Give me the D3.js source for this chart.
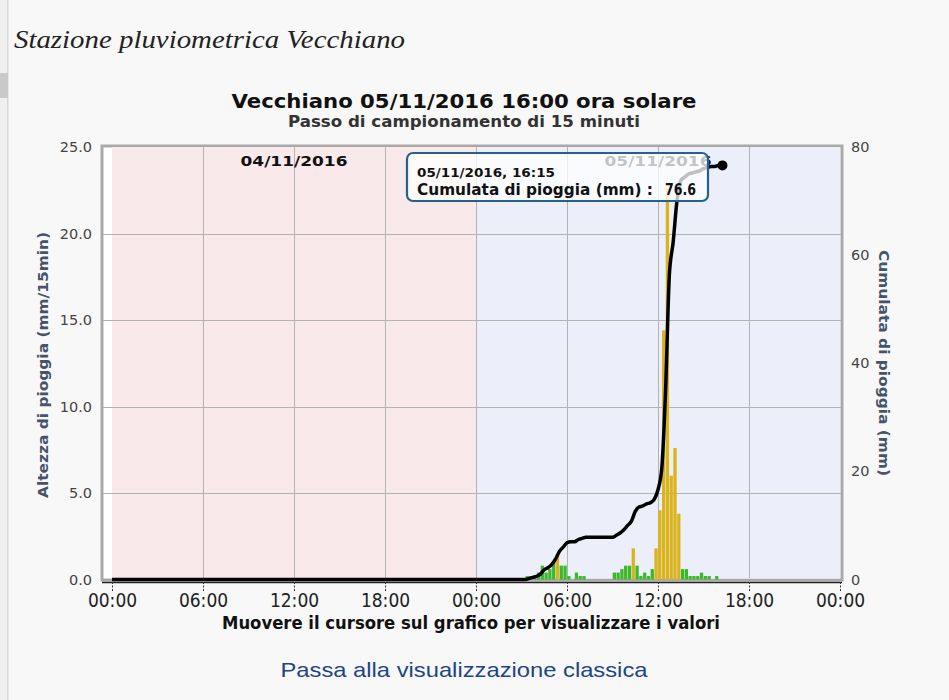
<!DOCTYPE html>
<html><head><meta charset="utf-8">
<script src="https://cdn.jsdelivr.net/npm/d3@7"></script>
<style>
html,body{margin:0;padding:0;background:#f8f8f8;}
svg{display:block;}
</style></head>
<body>
<svg id="c" width="949" height="700"></svg>
<script>
// ---------- DATA ----------
const pageTitle = "Stazione pluviometrica Vecchiano";
const chartTitle = "Vecchiano 05/11/2016 16:00 ora solare";
const chartSubtitle = "Passo di campionamento di 15 minuti";
const xAxisTitle = "Muovere il cursore sul grafico per visualizzare i valori";
const leftAxisTitle = "Altezza di pioggia (mm/15min)";
const rightAxisTitle = "Cumulata di pioggia (mm)";
const linkText = "Passa alla visualizzazione classica";

const dayLabels = ["04/11/2016", "05/11/2016"];
const dayStarts = ["2016-11-04 00:00", "2016-11-05 00:00", "2016-11-06 00:00"];
const xTickTimes = ["2016-11-04 00:00","2016-11-04 06:00","2016-11-04 12:00","2016-11-04 18:00",
                    "2016-11-05 00:00","2016-11-05 06:00","2016-11-05 12:00","2016-11-05 18:00","2016-11-06 00:00"];
const xTickLabels = ["00:00","06:00","12:00","18:00","00:00","06:00","12:00","18:00","00:00"];
const leftTicks = [0, 5, 10, 15, 20, 25];
const leftTickLabels = ["0.0","5.0","10.0","15.0","20.0","25.0"];
const rightTicks = [0, 20, 40, 60, 80];

// rain per 15 minutes on 05/11/2016 (interval start time, mm)
const rainTimes = ["03:15","03:30","03:45","04:00","04:15","04:30","04:45","05:00","05:15","05:30","05:45","06:00",
                   "06:30","06:45","07:00",
                   "09:00","09:15","09:30","09:45","10:00","10:15","10:30","10:45","11:00","11:15","11:30",
                   "11:45","12:00","12:15","12:30","12:45","13:00","13:15",
                   "13:30","13:45","14:00","14:15","14:30","14:45","15:00","15:15","15:45"];
const rainValues = [0.2,0.2,0.2,0.4,0.8,0.4,0.6,1.0,1.4,0.8,0.8,0.2,
                    0.4,0.2,0.2,
                    0.4,0.4,0.6,0.8,0.8,1.8,0.8,0.2,0.4,0.2,0.6,
                    1.8,4.0,14.4,22.6,6.0,7.6,3.8,
                    0.6,0.6,0.2,0.2,0.2,0.4,0.2,0.2,0.2];

// cumulative rain (mm): one value at 04/11 00:00, then every 15 min on 05/11 from 00:00 to 16:15
const cumDay1Value = 0;
const cumValues = [0,0,0,0,0,0,0,0,0,0,0,0,0,0,
                   0.2,0.4,0.6,1.0,1.8,2.2,2.8,3.8,5.2,6.0,6.8,7.0,7.0,7.4,7.6,7.8,
                   7.8,7.8,7.8,7.8,7.8,7.8,7.8,
                   8.2,8.6,9.2,10.0,10.8,12.6,13.4,13.6,14.0,14.2,14.8,16.6,20.6,35.0,56.4,62.4,70.0,
                   73.8,74.4,75.0,75.2,75.4,75.6,76.0,76.2,76.4,76.4,76.6,76.6];
const tooltipDate = "05/11/2016, 16:15";
const tooltipLabel = "Cumulata di pioggia (mm) :";
const tooltipValue = "76.6";
const yellowThreshold = 1.0;

// ---------- DRAW ----------
const parse = d3.timeParse("%Y-%m-%d %H:%M");
const svg = d3.select("#c");
const W = 949, H = 700;

const plot = {left: 102, right: 842, top: 146, bottom: 580};
const x = d3.scaleTime().domain([parse(dayStarts[0]), parse(dayStarts[2])]).range([112, 840]);
const yL = d3.scaleLinear().domain([0, 25]).range([579.5, 147]);
const yR = d3.scaleLinear().domain([0, 80]).range([579.5, 147]);

// left page decoration
svg.append("rect").attr("x",0).attr("y",0).attr("width",8).attr("height",H).attr("fill","#f0f0f0");
svg.append("rect").attr("x",7).attr("y",0).attr("width",1.5).attr("height",H).attr("fill","#d8d8d8");
svg.append("rect").attr("x",0).attr("y",73).attr("width",8).attr("height",25).attr("fill","#c9c9c9");

// page title
svg.append("text").attr("x",14).attr("y",48).text(pageTitle)
  .attr("font-family","'Liberation Serif','DejaVu Serif',serif").attr("font-style","italic")
  .attr("font-size",26).attr("fill","#222").attr("textLength",391).attr("lengthAdjust","spacingAndGlyphs");

// chart titles
svg.append("text").attr("x",464).attr("y",108).attr("text-anchor","middle").text(chartTitle)
  .attr("font-family","'DejaVu Sans',Verdana,sans-serif").attr("font-weight","bold").attr("font-size",19)
  .attr("fill","#111").attr("textLength",465).attr("lengthAdjust","spacingAndGlyphs");
svg.append("text").attr("x",464).attr("y",127).attr("text-anchor","middle").text(chartSubtitle)
  .attr("font-family","'DejaVu Sans',Verdana,sans-serif").attr("font-weight","bold").attr("font-size",15)
  .attr("fill","#333").attr("textLength",352).attr("lengthAdjust","spacingAndGlyphs");

// frame
svg.append("rect").attr("x",plot.left).attr("y",plot.top).attr("width",plot.right-plot.left).attr("height",plot.bottom-plot.top)
  .attr("fill","#ffffff").attr("stroke","#a9a9a9").attr("stroke-width",3);

// day bands
const bandColors = ["#f9e9ea", "#eceef9"];
svg.append("g").selectAll("rect").data(dayLabels).join("rect")
  .attr("x",(d,i)=>x(parse(dayStarts[i])))
  .attr("y",plot.top+1)
  .attr("width",(d,i)=>x(parse(dayStarts[i+1]))-x(parse(dayStarts[i])))
  .attr("height",plot.bottom-plot.top-2.5)
  .attr("fill",(d,i)=>bandColors[i]);

// grid
const grid = svg.append("g").attr("stroke","#b3b3b3").attr("stroke-width",1);
grid.selectAll("line.v").data(xTickTimes.slice(1,-1)).join("line").attr("class","v")
  .attr("x1",d=>Math.round(x(parse(d)))+0.5).attr("x2",d=>Math.round(x(parse(d)))+0.5)
  .attr("y1",plot.top+1).attr("y2",plot.bottom-2);
grid.selectAll("line.h").data(leftTicks.slice(1,-1)).join("line").attr("class","h")
  .attr("x1",plot.left+1).attr("x2",plot.right-1)
  .attr("y1",d=>Math.round(yL(d))+0.5).attr("y2",d=>Math.round(yL(d))+0.5);

// day labels
svg.append("g").selectAll("text").data(dayLabels).join("text")
  .attr("x",(d,i)=>(x(parse(dayStarts[i]))+x(parse(dayStarts[i+1])))/2)
  .attr("y",166).attr("text-anchor","middle").text(d=>d)
  .attr("font-family","'DejaVu Sans',Verdana,sans-serif").attr("font-weight","bold").attr("font-size",14.5)
  .attr("fill","#111").attr("textLength",107).attr("lengthAdjust","spacingAndGlyphs");

// bars
const step = x(parse("2016-11-05 00:15")) - x(parse("2016-11-05 00:00"));
const rain = rainTimes.map((t,i)=>({t: parse("2016-11-05 " + t), v: rainValues[i]}));
svg.append("g").selectAll("rect").data(rain).join("rect")
  .attr("x",d=>x(d.t)+0.2)
  .attr("width",step-0.5)
  .attr("y",d=>yL(d.v))
  .attr("height",d=>yL(0)-yL(d.v))
  .attr("fill",d=>d.v>yellowThreshold ? "#dab41c" : "#3cb82b");

// cumulative line
const cum = [{t: parse(dayStarts[0]), v: cumDay1Value}]
  .concat(cumValues.map((v,k)=>({t: d3.timeMinute.offset(parse(dayStarts[1]), 15*k), v})));
svg.append("path").datum(cum)
  .attr("d", d3.line().x(d=>x(d.t)).y(d=>yR(d.v)).curve(d3.curveMonotoneX))
  .attr("fill","none").attr("stroke","#000").attr("stroke-width",3.5).attr("stroke-linejoin","round");
const last = cum[cum.length-1];
svg.append("circle").attr("cx",x(last.t)).attr("cy",yR(last.v)).attr("r",5).attr("fill","#000");

// x axis
const xAxis = d3.axisBottom(x).tickValues(xTickTimes.map(parse)).tickFormat((d,i)=>xTickLabels[i]).tickSize(10).tickSizeOuter(0);
const gx = svg.append("g").attr("transform",`translate(0,${plot.bottom+2})`).call(xAxis);
gx.select(".domain").attr("d",`M${plot.left},0.5H${plot.right}`).attr("stroke","#222").attr("stroke-width",1.5);
gx.selectAll(".tick line").attr("stroke","#333").attr("stroke-dasharray","2,1.5");
gx.selectAll(".tick text").attr("y",8).attr("dy","0.9em")
  .attr("font-family","'DejaVu Sans Condensed','DejaVu Sans',sans-serif").attr("font-size",19).attr("fill","#222");
gx.selectAll(".tick line").raise();

// left axis labels
svg.append("g").selectAll("text").data(leftTicks).join("text")
  .attr("x",92).attr("y",d=>yL(d)).attr("dy","0.35em").attr("text-anchor","end")
  .text((d,i)=>leftTickLabels[i])
  .attr("font-family","'DejaVu Sans',Verdana,sans-serif").attr("font-size",14.5).attr("fill","#444");
// right axis labels
svg.append("g").selectAll("text").data(rightTicks).join("text")
  .attr("x",851).attr("y",d=>yR(d)).attr("dy","0.35em").attr("text-anchor","start")
  .text(d=>d)
  .attr("font-family","'DejaVu Sans',Verdana,sans-serif").attr("font-size",14.5).attr("fill","#444");

// axis titles
svg.append("text").attr("transform","translate(48,365) rotate(-90)").attr("text-anchor","middle").text(leftAxisTitle)
  .attr("font-family","'DejaVu Sans',Verdana,sans-serif").attr("font-weight","bold").attr("font-size",14.5)
  .attr("fill","#46536b").attr("textLength",266).attr("lengthAdjust","spacingAndGlyphs");
svg.append("text").attr("transform","translate(879,363) rotate(90)").attr("text-anchor","middle").text(rightAxisTitle)
  .attr("font-family","'DejaVu Sans',Verdana,sans-serif").attr("font-weight","bold").attr("font-size",14.5)
  .attr("fill","#46536b").attr("textLength",226).attr("lengthAdjust","spacingAndGlyphs");

svg.append("text").attr("x",471).attr("y",629).attr("text-anchor","middle").text(xAxisTitle)
  .attr("font-family","'DejaVu Sans Condensed','DejaVu Sans',sans-serif").attr("font-weight","bold").attr("font-size",17)
  .attr("fill","#111").attr("textLength",498).attr("lengthAdjust","spacingAndGlyphs");

// tooltip
const tip = svg.append("g");
tip.append("rect").attr("x",407).attr("y",153).attr("width",301).attr("height",48).attr("rx",6)
  .attr("fill","#ffffff").attr("fill-opacity",0.75).attr("stroke","#22628b").attr("stroke-width",2.2);
tip.append("text").attr("x",417).attr("y",177).text(tooltipDate)
  .attr("font-family","'DejaVu Sans',Verdana,sans-serif").attr("font-weight","bold").attr("font-size",13)
  .attr("fill","#111").attr("textLength",138).attr("lengthAdjust","spacingAndGlyphs");
tip.append("text").attr("x",417).attr("y",195).text(tooltipLabel)
  .attr("font-family","'DejaVu Sans',Verdana,sans-serif").attr("font-weight","bold").attr("font-size",15.5)
  .attr("fill","#111").attr("textLength",236).attr("lengthAdjust","spacingAndGlyphs");
tip.append("text").attr("x",665).attr("y",195).text(tooltipValue)
  .attr("font-family","'DejaVu Sans',Verdana,sans-serif").attr("font-weight","bold").attr("font-size",15.5)
  .attr("fill","#111").attr("textLength",31).attr("lengthAdjust","spacingAndGlyphs");

// link
svg.append("text").attr("x",464).attr("y",677).attr("text-anchor","middle").text(linkText)
  .attr("font-family","'Liberation Sans',Arial,sans-serif").attr("font-size",21)
  .attr("fill","#1c4587").attr("textLength",367).attr("lengthAdjust","spacingAndGlyphs");
</script>
</body></html>
